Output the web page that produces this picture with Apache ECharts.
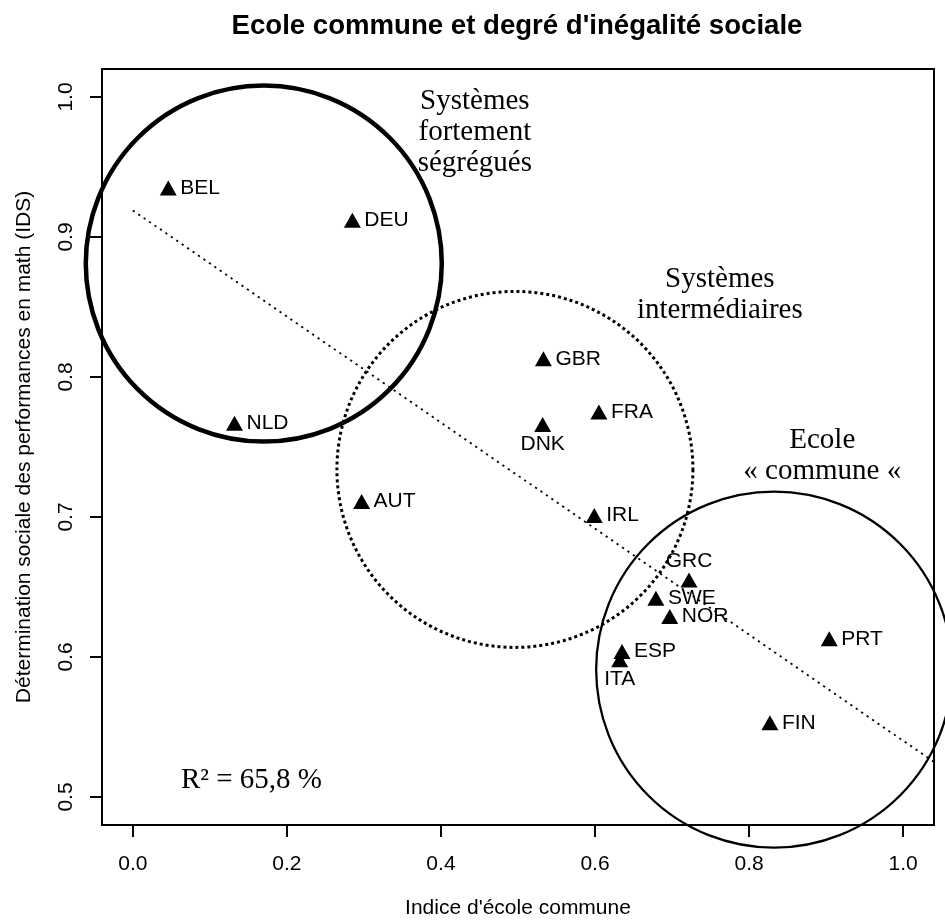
<!DOCTYPE html>
<html>
<head>
<meta charset="utf-8">
<script src="https://cdn.jsdelivr.net/npm/echarts@6/dist/echarts.min.js"></script>
<style>
html,body{margin:0;padding:0;background:#fff;}
#chart{width:945px;height:920px;}
</style>
</head>
<body>
<div id="chart"></div>
<script>
// ---- data ----
const countries    = ['BEL','DEU','NLD','GBR','FRA','DNK','IRL','AUT','GRC','SWE','NOR','PRT','ESP','ITA','FIN'];
const ecoleCommune = [0.046,0.285,0.132,0.533,0.605,0.532,0.599,0.297,0.722,0.679,0.697,0.904,0.635,0.632,0.827];
const ids          = [0.935,0.912,0.767,0.813,0.775,0.766,0.701,0.711,0.655,0.642,0.629,0.613,0.604,0.598,0.553];
const labelSide    = ['right','right','right','right','right','bottom','right','right','top','right','right','right','right','bottom','right'];
const xTicks = [0, 0.2, 0.4, 0.6, 0.8, 1.0];
const yTicks = [0.5, 0.6, 0.7, 0.8, 0.9, 1.0];
const regressionX = [0, 1.04];
const regressionY = [0.919, 0.525];
const circleX = [0.17, 0.496, 0.8325];
const circleY = [0.881, 0.734, 0.591];
const noteTexts = ['Systèmes\nfortement\nségrégués', 'Systèmes\nintermédiaires', 'Ecole\n« commune «', 'R² = 65,8 %'];
const noteX = [0.444, 0.762, 0.895, 0.154];
const noteY = [0.975, 0.859, 0.744, 0.512];

const SANS = 'Liberation Sans, Arial, sans-serif';
const SERIF = 'Liberation Serif, Times New Roman, serif';

const pointData = countries.map((c, i) => ({
  name: c,
  value: [ecoleCommune[i], ids[i]],
  label: { position: labelSide[i], distance: labelSide[i] === 'right' ? 3.5 : (labelSide[i] === 'top' ? 0.5 : 1.5) }
}));

const circleStyles = [
  { borderType: 'solid', borderWidth: 4.5 },
  { borderType: [3, 3], borderWidth: 3 },
  { borderType: 'solid', borderWidth: 2.3 }
];
const circleData = circleX.map((x, i) => ({
  value: [x, circleY[i]],
  itemStyle: Object.assign({ color: 'rgba(0,0,0,0)', borderColor: '#000', opacity: 1 }, circleStyles[i])
}));

const noteData = noteTexts.map((t, i) => ({ name: t, value: [noteX[i], noteY[i]] }));

const chart = echarts.init(document.getElementById('chart'), null, { renderer: 'canvas' });
chart.setOption({
  animation: false,
  backgroundColor: '#fff',
  title: {
    text: "Ecole commune et degré d'inégalité sociale",
    left: 512, top: 7, textAlign: 'center',
    textStyle: { fontFamily: SANS, fontWeight: 'bold', fontSize: 27.6, color: '#000' }
  },
  grid: {
    left: 102, right: 11, top: 69, bottom: 95,
    show: true, borderColor: '#000', borderWidth: 2, backgroundColor: 'transparent',
    containLabel: false, outerBoundsMode: 'none'
  },
  xAxis: {
    type: 'value', min: -0.04, max: 1.04,
    name: "Indice d'école commune", nameLocation: 'middle', nameGap: 73,
    nameTextStyle: { fontFamily: SANS, fontSize: 21, color: '#000' },
    axisLine: { show: false, onZero: false },
    splitLine: { show: false },
    axisTick: { show: true, length: 12, customValues: xTicks, lineStyle: { color: '#000', width: 2 } },
    axisLabel: { show: true, customValues: xTicks, margin: 29, fontFamily: SANS, fontSize: 21, color: '#000',
      formatter: v => v.toFixed(1) }
  },
  yAxis: {
    type: 'value', min: 0.48, max: 1.02,
    name: 'Détermination sociale des performances en math (IDS)', nameLocation: 'middle', nameGap: 67, nameRotate: 90,
    nameTextStyle: { fontFamily: SANS, fontSize: 21, color: '#000' },
    axisLine: { show: false, onZero: false },
    splitLine: { show: false },
    axisTick: { show: true, length: 12, customValues: yTicks, lineStyle: { color: '#000', width: 2 } },
    axisLabel: { show: true, customValues: yTicks, rotate: 90, margin: 25, fontFamily: SANS, fontSize: 21, color: '#000',
      formatter: v => v.toFixed(1) }
  },
  series: [
    {
      type: 'line', silent: true, data: regressionX.map((x, i) => [x, regressionY[i]]),
      symbol: 'none', lineStyle: { color: '#000', width: 1.8, type: [2.2, 4.4] }, z: 2
    },
    {
      type: 'scatter', silent: true, clip: false, symbol: 'circle', symbolSize: 356,
      data: circleData, z: 3
    },
    {
      type: 'scatter', silent: true, symbol: 'triangle', symbolSize: [17, 15],
      itemStyle: { color: '#000', opacity: 1 },
      label: { show: true, formatter: p => p.name, fontFamily: SANS, fontSize: 21, color: '#000' },
      data: pointData, z: 4
    },
    {
      type: 'scatter', silent: true, clip: false, symbolSize: 0,
      itemStyle: { opacity: 0 },
      label: { show: true, position: 'inside', formatter: p => p.name, fontFamily: SERIF, fontSize: 29,
        lineHeight: 31, color: '#000', align: 'center', opacity: 1 },
      data: noteData, z: 5
    }
  ]
});
</script>
</body>
</html>
